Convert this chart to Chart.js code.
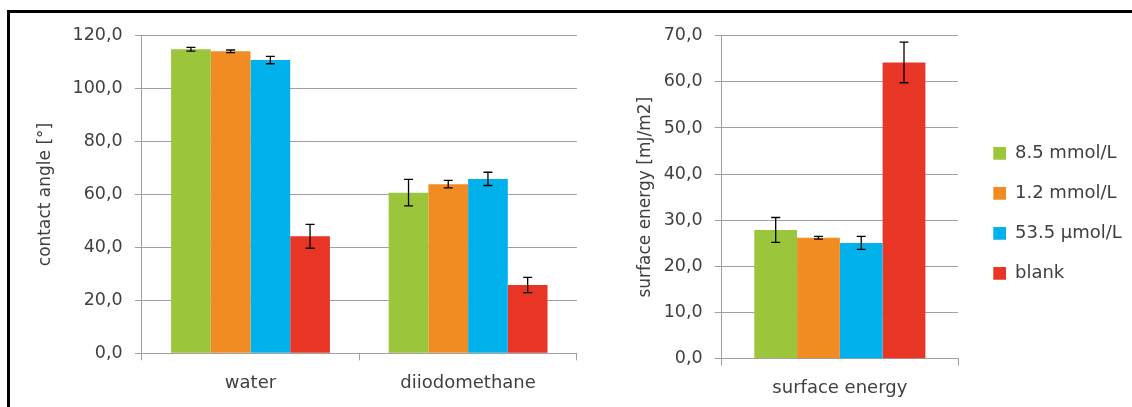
<!DOCTYPE html>
<html>
<head>
<meta charset="utf-8">
<script src="https://cdn.jsdelivr.net/npm/chart.js@4.4.1/dist/chart.umd.min.js"></script>
<style>
  html, body { margin: 0; padding: 0; background: #fff; }
  body { width: 1132px; height: 407px; position: relative; overflow: hidden; }
  .frame {
    position: absolute; left: 7px; top: 10px; width: 1200px; height: 500px;
    border-top: 3px solid #000; border-left: 3px solid #000;
  }
  .box { position: absolute; top: 13px; height: 394px; }
  #leftBox { left: 10px; width: 575px; }
  #rightBox { left: 590px; width: 542px; }
</style>
</head>
<body>
<div class="frame"></div>
<div class="box" id="leftBox"><canvas id="angleChart"></canvas></div>
<div class="box" id="rightBox"><canvas id="energyChart"></canvas></div>
<script>
// series names and colours
const seriesNames = ["8.5 mmol/L", "1.2 mmol/L", "53.5 µmol/L", "blank"];
const seriesColors = ["#9BC53A", "#F08C21", "#00B1EB", "#E83525"];

// contact angle chart
const angleCategories = ["water", "diiodomethane"];
const angle85 = [114.9, 60.7];
const angle12 = [114.1, 63.9];
const angle535 = [110.8, 65.9];
const angleBlank = [44.2, 25.8];
const angleErr85 = [0.7, 5.0];
const angleErr12 = [0.5, 1.4];
const angleErr535 = [1.4, 2.5];
const angleErrBlank = [4.5, 2.9];
const angleTickLabels = ["0,0", "20,0", "40,0", "60,0", "80,0", "100,0", "120,0"];

// surface energy chart
const energyCategories = ["surface energy"];
const energy85 = [27.9];
const energy12 = [26.2];
const energy535 = [25.1];
const energyBlank = [64.2];
const energyErr85 = [2.7];
const energyErr12 = [0.3];
const energyErr535 = [1.4];
const energyErrBlank = [4.4];
const energyTickLabels = ["0,0", "10,0", "20,0", "30,0", "40,0", "50,0", "60,0", "70,0"];

const fontFamily = "'DejaVu Sans', sans-serif";
const textColor = "#404040";
const gridColor = "#a0a0a0";

// draws the +/- error bars on top of each bar
const errorBars = {
  id: "errorBars",
  afterDatasetsDraw(chart) {
    const ctx = chart.ctx;
    const y = chart.scales.y;
    ctx.save();
    ctx.strokeStyle = "#000";
    ctx.lineWidth = 1.3;
    chart.data.datasets.forEach((ds, i) => {
      const meta = chart.getDatasetMeta(i);
      meta.data.forEach((bar, j) => {
        const v = ds.data[j];
        const e = ds.errors[j];
        const top = y.getPixelForValue(v + e);
        const bottom = y.getPixelForValue(v - e);
        ctx.beginPath();
        ctx.moveTo(bar.x, top);
        ctx.lineTo(bar.x, bottom);
        ctx.moveTo(bar.x - 4.5, top);
        ctx.lineTo(bar.x + 4.5, top);
        ctx.moveTo(bar.x - 4.5, bottom);
        ctx.lineTo(bar.x + 4.5, bottom);
        ctx.stroke();
      });
    });
    ctx.restore();
  },
};

// nudges the legend box to where the reference has it and lets it run to the canvas edge
const legendShift = {
  id: "legendShift",
  afterLayout(chart, args, opts) {
    const lg = chart.legend;
    if (!lg || !opts.dx) return;
    lg.left += opts.dx;
    lg.right = chart.width;
    lg.width = lg.right - lg.left;
    lg.top += opts.dy;
    lg.bottom += opts.dy;
  },
};

function makeDatasets(values, errors, catPct) {
  return values.map((vals, i) => ({
    label: seriesNames[i],
    data: vals,
    errors: errors[i],
    backgroundColor: seriesColors[i],
    borderWidth: 0,
    categoryPercentage: catPct,
    barPercentage: 1.0,
  }));
}

function makeOptions(cfg) {
  return {
    responsive: true,
    maintainAspectRatio: false,
    animation: false,
    layout: { padding: cfg.padding },
    plugins: {
      legend: cfg.legend,
      tooltip: { enabled: false },
      legendShift: cfg.shift || {},
    },
    scales: {
      x: {
        grid: { display: true, drawOnChartArea: false, drawTicks: true, tickLength: 7, color: gridColor, offset: true },
        border: { color: gridColor, width: 1 },
        ticks: { color: textColor, font: { family: fontFamily, size: 18 }, padding: 12, maxRotation: 0 },
        afterFit: (s) => { s.height = cfg.xHeight; },
      },
      y: {
        min: 0,
        max: cfg.max,
        ticks: {
          stepSize: cfg.step,
          color: textColor,
          font: { family: fontFamily, size: 17.5 },
          padding: 12,
          callback: (v, idx) => cfg.tickLabels[idx],
        },
        grid: { color: gridColor, lineWidth: 1, tickLength: 7 },
        border: { color: gridColor, width: 1 },
        title: {
          display: true,
          text: cfg.title,
          color: textColor,
          font: { family: fontFamily, size: 17 },
          padding: { top: cfg.titlePad, bottom: 0 },
        },
        afterFit: (s) => { s.width = 131.7; },
      },
    },
  };
}

const ctx1 = document.getElementById("angleChart").getContext("2d");
const angleChart = new Chart(ctx1, {
  type: "bar",
  data: {
    labels: angleCategories,
    datasets: makeDatasets(
      [angle85, angle12, angle535, angleBlank],
      [angleErr85, angleErr12, angleErr535, angleErrBlank],
      0.73
    ),
  },
  options: makeOptions({
    padding: { top: 22.7, left: 0, right: 8.1, bottom: 0 },
    legend: { display: false },
    xHeight: 53.7,
    max: 120,
    step: 20,
    tickLabels: angleTickLabels,
    title: "contact angle [°]",
    titlePad: 25.3,
  }),
  plugins: [errorBars, legendShift],
});

const ctx2 = document.getElementById("energyChart").getContext("2d");
const energyChart = new Chart(ctx2, {
  type: "bar",
  data: {
    labels: energyCategories,
    datasets: makeDatasets(
      [energy85, energy12, energy535, energyBlank],
      [energyErr85, energyErr12, energyErr535, energyErrBlank],
      0.724
    ),
  },
  options: makeOptions({
    // legend box fixed at 100px wide so the plot ends where the reference does
    padding: { top: 22.7, left: 0, right: 74, bottom: 0 },
    legend: {
      display: true,
      position: "right",
      maxWidth: 100,
      labels: {
        color: textColor,
        font: { family: fontFamily, size: 18 },
        boxWidth: 12.7,
        boxHeight: 12.7,
        padding: 22,
      },
    },
    shift: { dx: 13.3, dy: -8 },
    xHeight: 48.3,
    max: 70,
    step: 10,
    tickLabels: energyTickLabels,
    title: "surface energy [mJ/m2]",
    titlePad: 45.6,
  }),
  plugins: [errorBars, legendShift],
});
</script>
</body>
</html>
